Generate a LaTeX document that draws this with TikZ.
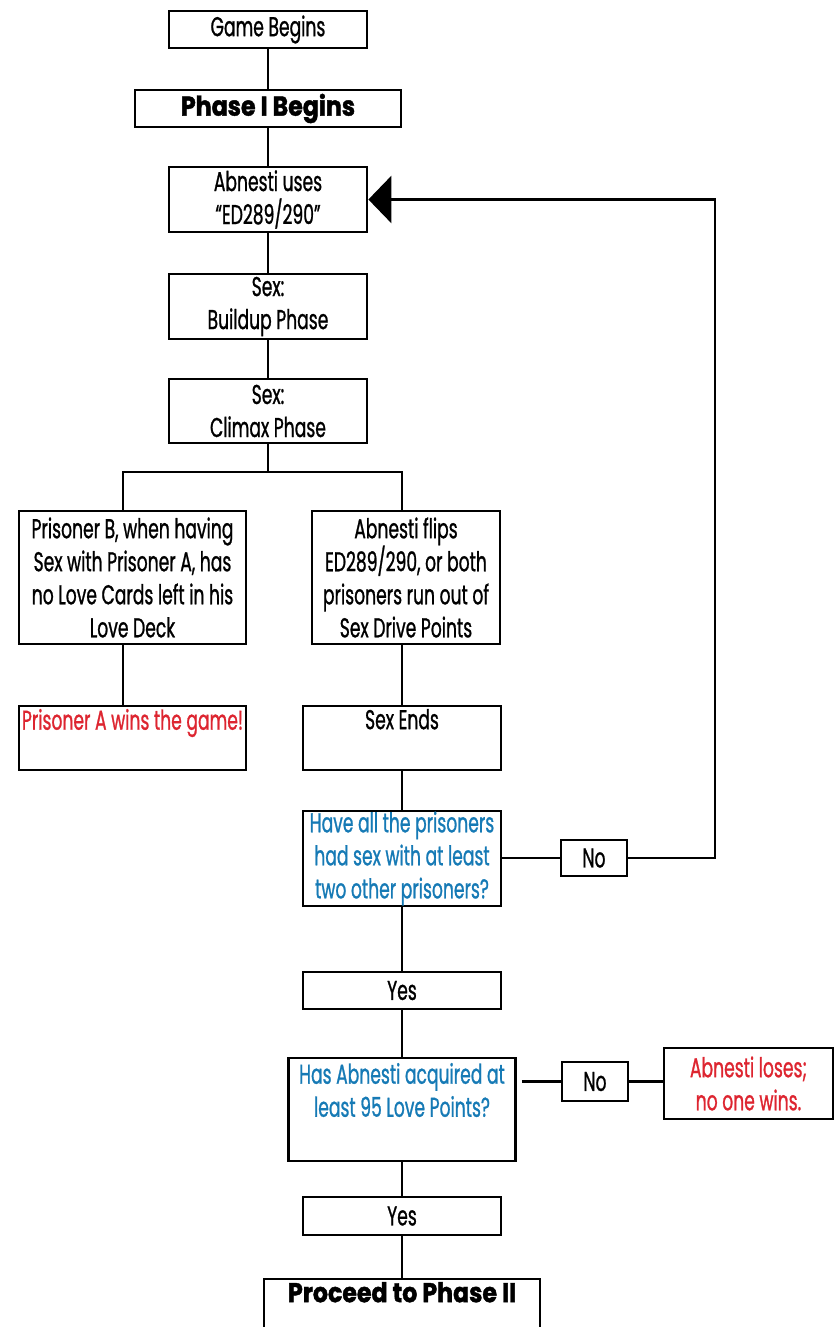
\documentclass[tikz,border=0pt]{standalone}
\usepackage{fontspec}
\setmainfont{Poppins}[FakeStretch=0.63, FakeBold=0.9, BoldFeatures={FakeStretch=0.87, FakeBold=1.6}]
\usepackage{xcolor}
\usetikzlibrary{arrows.meta, calc}
\definecolor{winred}{RGB}{221,37,48}
\definecolor{askblue}{RGB}{22,122,181}

\begin{document}
\begin{tikzpicture}[x=0.02cm, y=-0.02cm, line width=1.6pt,
    every node/.style={font=\fontsize{15.5}{18.8}\selectfont, inner sep=0pt, align=center},
    flowbox/.style={draw, minimum width=3.96cm, minimum height=0.74cm},
    tall/.style={flowbox, minimum height=1.3cm},
    ask/.style={text=askblue},
    verdict/.style={text=winred}]
    \useasboundingbox (0,0) rectangle (837,1327);
    % main column
    \node[flowbox] (game) at (268,29.5) {Game Begins};
    \node[flowbox, minimum width=5.32cm] (phase) at (268,108.5) {\bfseries Phase I Begins};
    \node[tall] (uses) at (268,199.5) {Abnesti uses\\“ED289/290”};
    \node[tall] (build) at (268,306.5) {Sex:\\Buildup Phase};
    \node[tall, minimum height=1.28cm] (climax) at (268,411) {Sex:\\Climax Phase};
    \node[flowbox, minimum width=4.54cm, minimum height=2.66cm] (pb) at (132.5,577.5)
        {Prisoner B, when having\\Sex with Prisoner A, has\\no Love Cards left in his\\Love Deck};
    \node[flowbox, minimum width=3.76cm, minimum height=2.66cm] (flips) at (406,577.5)
        {Abnesti flips\\ED289/290, or both\\prisoners run out of\\Sex Drive Points};
    \node[flowbox, minimum width=4.54cm, minimum height=1.28cm] (wins) at (132.5,738) {};
    \node[verdict, anchor=north] (winstext) at ($(wins.north)+(0,3)$) {Prisoner A wins the game!};
    \node[flowbox, minimum height=1.28cm] (ends) at (402,738) {};
    \node[anchor=north] (endstext) at ($(ends.north)+(0,3)$) {Sex Ends};
    \node[flowbox, minimum height=1.9cm, ask] (q1) at (402,858.5)
        {Have all the prisoners\\had sex with at least\\two other prisoners?};
    \node[flowbox, minimum width=1.32cm, minimum height=0.72cm] (no1) at (594,858) {No};
    \node[flowbox] (yes1) at (402,990.5) {Yes};
    \node[flowbox, minimum width=4.54cm, minimum height=2.06cm] (q2) at (402,1109.5) {};
    \node[ask, anchor=north] (q2text) at ($(q2.north)+(0,5)$) {Has Abnesti acquired at\\least 95 Love Points?};
    \node[flowbox, minimum width=1.32cm, minimum height=0.78cm] (no2) at (595,1081.5) {No};
    \node[flowbox, minimum width=3.38cm, minimum height=1.42cm, verdict] (lose) at (748.5,1083.5)
        {Abnesti loses;\\no one wins.};
    \node[flowbox, minimum height=0.76cm] (yes2) at (402,1216) {Yes};
    \node[flowbox, minimum width=5.52cm, minimum height=1.4cm] (proceed) at (402,1314) {};
    \node[anchor=north] (proceedtext) at ($(proceed.north)+(0,3)$) {\bfseries Proceed to Phase II};

    \coordinate (split) at (268,472);
    \coordinate (lbranch) at (123,472);
    \coordinate (rbranch) at (402,472);
    \coordinate (loopx) at (715,0);

    \draw (game) -- (phase);
    \draw (phase) -- (uses);
    \draw (uses) -- (build);
    \draw (build) -- (climax);
    \draw (climax.south) -- (split);
    \draw (lbranch |- pb.north) -- (lbranch) -- (rbranch) -- (rbranch |- flips.north);
    \draw (lbranch |- pb.south) -- (lbranch |- wins.north);
    \draw (rbranch |- flips.south) -- (ends.north);
    \draw (ends) -- (q1);
    \draw (q1) -- (yes1);
    \draw (yes1) -- (q2);
    \draw (q2) -- (yes2);
    \draw (yes2) -- (proceed);
    % the loop back
    \draw (q1.east |- no1.west) -- (no1.west);
    \draw[-{Triangle[length=0.46cm, width=0.94cm]}] (no1.east) -| (loopx |- uses.east) -- (uses.east);
    \draw[shorten <=0.1cm] (q2.east |- no2.west) -- (no2.west);
    \draw (no2.east) -- (lose.west |- no2.east);
\end{tikzpicture}
\end{document}
